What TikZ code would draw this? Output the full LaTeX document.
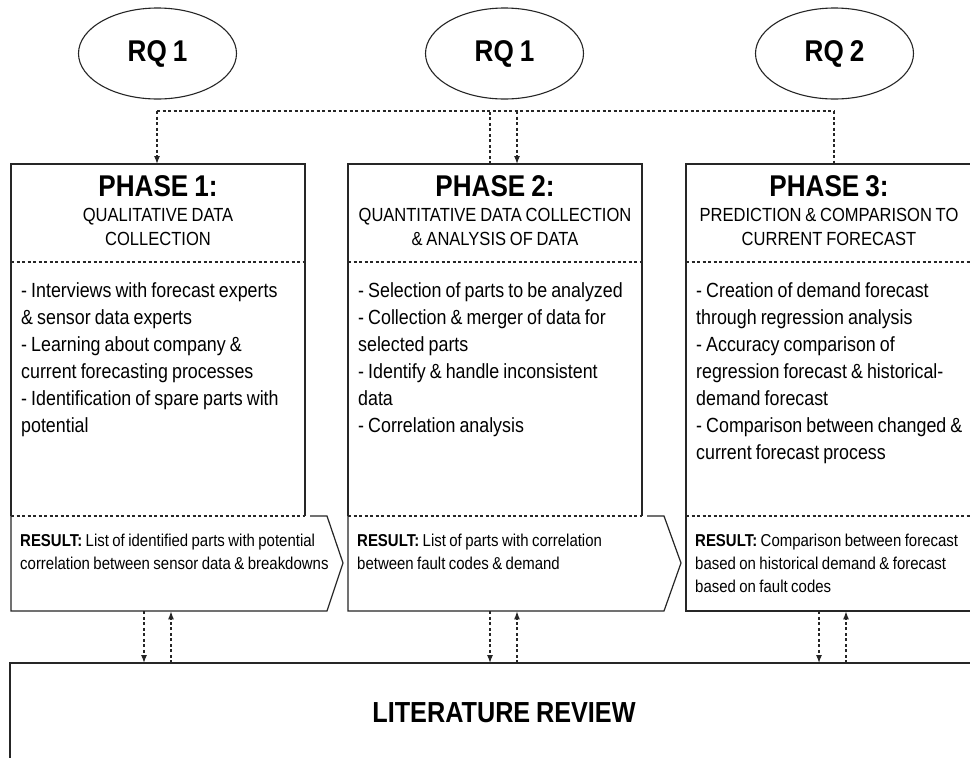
\documentclass[tikz,border=0pt]{standalone}
\usepackage{fontspec}
\setmainfont[FakeStretch=0.87]{Liberation Sans}
\usetikzlibrary{shapes.geometric,arrows.meta,calc}
\newcommand\myspc{\spaceskip=0.2em\relax\xspaceskip=0.2em\relax}
\begin{document}
\begin{tikzpicture}[x=1pt,y=-1pt,
  edge/.style={draw=black!85, line width=1.2pt, line join=miter},
  dashline/.style={draw=black!85, line width=1.1pt, dash pattern=on 3pt off 2.5pt},
  arr/.style={-{Latex[length=8pt,width=6pt]}},
  rq/.style={ellipse, draw=black!85, line width=1.1pt, minimum width=158pt, minimum height=91pt, inner sep=0pt, font=\fontsize{30}{30}\selectfont\bfseries\myspc},
  ptitle/.style={anchor=base, inner sep=0pt, font=\fontsize{30}{30}\selectfont\bfseries\myspc},
  psub/.style={anchor=base, inner sep=0pt, text width=300pt, align=center, font=\fontsize{19}{24}\selectfont},
  pbody/.style={anchor=base west, inner sep=0pt, text width=300pt, align=left, font=\fontsize{20.5}{27}\selectfont},
  pres/.style={anchor=base west, inner sep=0pt, text width=330pt, align=left, font=\fontsize{17.2}{23}\selectfont},
  phasearea/.style={rectangle, inner sep=0pt, draw=none, anchor=north west}]
\clip (0,0) rectangle (970,758);
\fill[white] (0,0) rectangle (970,758);

% research questions
\node[rq] (rq1) at (157.5,53.5) {RQ 1};
\node[rq] (rq2) at (504.5,53.5) {RQ 1};
\node[rq] (rq3) at (834.5,53.5) {RQ 2};

% phase areas (invisible, for anchoring)
\node[phasearea, minimum width=294pt, minimum height=447pt] (p1) at (11,164) {};
\node[phasearea, minimum width=294pt, minimum height=447pt] (p2) at (348,164) {};
\node[phasearea, minimum width=294pt, minimum height=447pt] (p3) at (686,164) {};
\node[phasearea, minimum width=1000pt, minimum height=200pt] (lit) at (10,663) {};

% phase 1 frame
\draw[edge] (11,516) -- (11,164) -- (305,164) -- (305,516);
\draw[dashline] (11,262) -- (305,262);
\draw[dashline] (11,516) -- (305,516);
\draw[edge] (310,516) -- (327,516) -- (343,563) -- (327,611) -- (11,611) -- (11,516);
% phase 2 frame
\draw[edge] (348,516) -- (348,164) -- (642,164) -- (642,516);
\draw[dashline] (348,262) -- (642,262);
\draw[dashline] (348,516) -- (642,516);
\draw[edge] (647,516) -- (664,516) -- (681,563) -- (664,611) -- (348,611) -- (348,516);
% phase 3 frame
\draw[edge] (686,516) -- (686,164) -- (990,164);
\draw[dashline] (686,262) -- (990,262);
\draw[dashline] (686,516) -- (990,516);
\draw[edge] (686,516) -- (686,611) -- (990,611);
% literature review frame
\draw[edge] (lit.south west) -- (lit.north west) -- (lit.north east);

% titles
\node[ptitle] (t1) at (158,196) {PHASE 1:};
\node[psub] (s1) at (158,221) {\myspc QUALITATIVE DATA\\COLLECTION};
\node[ptitle] (t2) at (495,196) {PHASE 2:};
\node[psub] (s2) at (495,221) {\myspc QUANTITATIVE DATA COLLECTION\\\& ANALYSIS OF DATA};
\node[ptitle] (t3) at (829,196) {PHASE 3:};
\node[psub] (s3) at (829,221) {\myspc PREDICTION \& COMPARISON TO\\CURRENT FORECAST};

% bodies
\node[pbody] (b1) at (21,297.5) {\myspc - Interviews with forecast experts\\\& sensor data experts\\- Learning about company \&\\current forecasting processes\\- Identification of spare parts with\\potential};
\node[pbody] (b2) at (358,297.5) {\myspc - Selection of parts to be analyzed\\- Collection \& merger of data for\\selected parts\\- Identify \& handle inconsistent\\data\\- Correlation analysis};
\node[pbody] (b3) at (696,297.5) {\myspc - Creation of demand forecast\\through regression analysis\\- Accuracy comparison of\\regression forecast \& historical-\\demand forecast\\- Comparison between changed \&\\current forecast process};

% results
\node[pres] (r1) at (20,546) {\myspc\textbf{RESULT:} List of identified parts with potential\\correlation between sensor data \& breakdowns};
\node[pres] (r2) at (357,546) {\myspc\textbf{RESULT:} List of parts with correlation\\between fault codes \& demand};
\node[pres] (r3) at (695,546) {\myspc\textbf{RESULT:} Comparison between forecast\\based on historical demand \& forecast\\based on fault codes};

\node[font=\fontsize{29}{29}\selectfont\bfseries\myspc, inner sep=0pt] (littext) at (504,713) {LITERATURE REVIEW};

% top connectors
\coordinate (j1) at (157,111);
\coordinate (j2) at (490,111);
\coordinate (j3) at (517,111);
\coordinate (j4) at (834,111);
\draw[dashline] (j2 |- p2.north) -- (j2);
\draw[dashline] (j1) -- (j4);
\draw[dashline,arr] (j1) -- (j1 |- p1.north);
\draw[dashline,arr] (j3) -- (j3 |- p2.north);
\draw[dashline] (j4) -- (j4 |- p3.north);

% bottom connectors
\coordinate (d1) at ($(p1.south west)+(133,0)$);
\coordinate (u1) at ($(p1.south west)+(160,0)$);
\coordinate (d2) at ($(p2.south west)+(142,0)$);
\coordinate (u2) at ($(p2.south west)+(169,0)$);
\coordinate (d3) at ($(p3.south west)+(133,0)$);
\coordinate (u3) at ($(p3.south west)+(160,0)$);
\draw[dashline,arr] (d1) -- (d1 |- lit.north);
\draw[dashline,arr] (u1 |- lit.north) -- (u1);
\draw[dashline,arr] (d2) -- (d2 |- lit.north);
\draw[dashline,arr] (u2 |- lit.north) -- (u2);
\draw[dashline,arr] (d3) -- (d3 |- lit.north);
\draw[dashline,arr] (u3 |- lit.north) -- (u3);
\end{tikzpicture}
\end{document}
